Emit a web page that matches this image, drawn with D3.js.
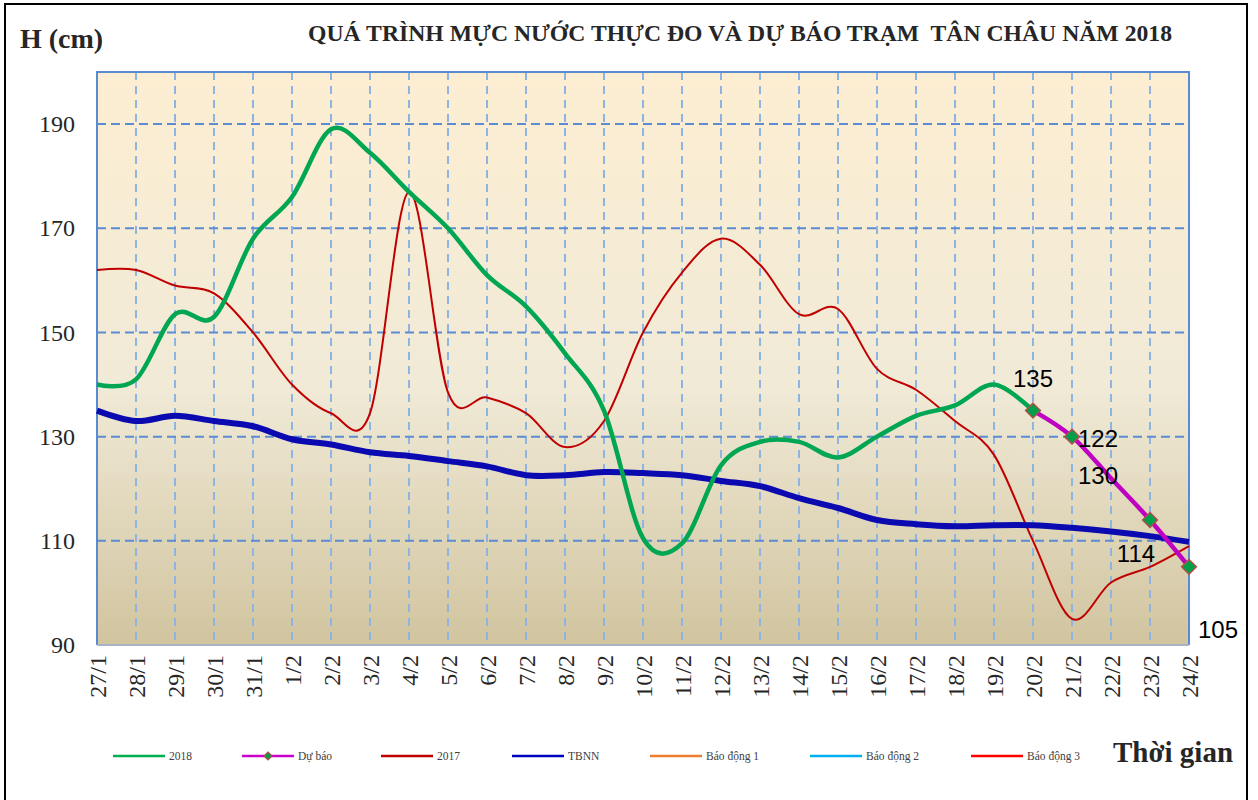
<!DOCTYPE html>
<html>
<head>
<meta charset="utf-8">
<script src="https://cdn.jsdelivr.net/npm/d3@7"></script>
<style>
  body { margin: 0; background: #fff; }
  svg text { font-family: "Liberation Serif", "Times New Roman", serif; }
</style>
</head>
<body>
<svg id="chart"></svg>
<script>
const width = 1258;
const height = 800;
const plot = { left: 97, right: 1189, top: 72, bottom: 645 };

// ngày (trục hoành)
const dates = ['27/1','28/1','29/1','30/1','31/1','1/2','2/2','3/2','4/2','5/2','6/2','7/2','8/2','9/2',
  '10/2','11/2','12/2','13/2','14/2','15/2','16/2','17/2','18/2','19/2','20/2','21/2','22/2','23/2','24/2'];
const yTicks = [90, 110, 130, 150, 170, 190];

// thực đo 2018 (27/1 -> 20/2)
const h2018 = [140, 141, 153.5, 153, 168, 176, 189, 184.5, 177, 170, 161, 155, 146, 135,
  110.5, 109.5, 124.5, 129, 129, 126, 130, 134, 136, 140, 135];
// dự báo
const duBaoDates = ['20/2','21/2','22/2','23/2','24/2'];
const duBao = [135, 130, 122, 114, 105];
const duBaoMarker = [true, true, false, true, true];
const duBaoText = ['135', '122', '130', '114', '105'];
// năm 2017
const h2017 = [162, 162, 159, 157.5, 150, 140, 134.5, 134.5, 177, 138.5, 137.5, 134.5, 128, 133,
  150, 161.5, 168, 163, 153.5, 154.5, 143, 139, 133, 126.5, 110, 95, 102, 105, 109];
// trung bình nhiều năm
const tbnn = [135, 133, 134, 133, 132, 129.5, 128.5, 127, 126.3, 125.3, 124.3, 122.6, 122.6, 123.2,
  123, 122.6, 121.5, 120.5, 118.2, 116.3, 114, 113.2, 112.8, 113, 113, 112.5, 111.8, 110.9, 109.8];

const legendItems = [
  { name: '2018', color: '#00b050' },
  { name: 'Dự báo', color: '#cc00cc', marker: true },
  { name: '2017', color: '#c00000' },
  { name: 'TBNN', color: '#0000c0' },
  { name: 'Báo động 1', color: '#ed7d31' },
  { name: 'Báo động 2', color: '#00b0f0' },
  { name: 'Báo động 3', color: '#ff0000' }
];
const legendX = [113, 242, 381, 512, 650, 810, 971];
// vị trí nhãn so với điểm dự báo
const labelOffsets = [[0, -24], [26, 10], [-13, 6], [-14, 42], [29, 71]];

const svg = d3.select('#chart')
  .attr('width', width)
  .attr('height', height);

const x = d3.scalePoint()
  .domain(dates)
  .range([plot.left, plot.right]);

const y = d3.scaleLinear()
  .domain([90, 200])
  .range([plot.bottom, plot.top]);

// nền gradient
const grad = svg.append('defs').append('linearGradient')
  .attr('id', 'bg')
  .attr('x1', 0).attr('y1', 0).attr('x2', 0).attr('y2', 1);
grad.append('stop').attr('offset', '0%').attr('stop-color', '#fdeed2');
grad.append('stop').attr('offset', '55%').attr('stop-color', '#f0ead7');
grad.append('stop').attr('offset', '100%').attr('stop-color', '#d1c49f');

svg.append('rect')
  .attr('x', 5).attr('y', 4)
  .attr('width', 1242).attr('height', 820)
  .attr('fill', 'none')
  .attr('stroke', '#000')
  .attr('stroke-width', 2);

svg.append('rect')
  .attr('x', plot.left).attr('y', plot.top)
  .attr('width', plot.right - plot.left)
  .attr('height', plot.bottom - plot.top)
  .attr('fill', 'url(#bg)');

// lưới
svg.append('g')
  .selectAll('line')
  .data(dates.slice(1, -1))
  .enter()
  .append('line')
  .attr('x1', d => x(d)).attr('x2', d => x(d))
  .attr('y1', plot.top).attr('y2', plot.bottom)
  .attr('stroke', '#8db4e2')
  .attr('stroke-width', 2)
  .attr('stroke-dasharray', '8,6');

svg.append('g')
  .selectAll('line')
  .data(yTicks.slice(1))
  .enter()
  .append('line')
  .attr('x1', plot.left).attr('x2', plot.right)
  .attr('y1', d => y(d)).attr('y2', d => y(d))
  .attr('stroke', '#5b8bd3')
  .attr('stroke-width', 2)
  .attr('stroke-dasharray', '9,5');

// khung
svg.append('path')
  .attr('d', `M${plot.left},${plot.bottom}V${plot.top}H${plot.right}V${plot.bottom}`)
  .attr('fill', 'none')
  .attr('stroke', '#5a8ad0')
  .attr('stroke-width', 2);
svg.append('line')
  .attr('x1', plot.left).attr('x2', plot.right)
  .attr('y1', plot.bottom).attr('y2', plot.bottom)
  .attr('stroke', '#a8b3c3')
  .attr('stroke-width', 2);

// trục
const yAxis = svg.append('g')
  .attr('transform', `translate(${plot.left},0)`)
  .call(d3.axisLeft(y).tickValues(yTicks).tickSize(0).tickPadding(22));
yAxis.select('.domain').remove();
yAxis.selectAll('text')
  .attr('font-family', '"Liberation Serif", serif')
  .attr('font-size', 24)
  .attr('fill', '#262626');

const xAxis = svg.append('g')
  .attr('transform', `translate(0,${plot.bottom})`)
  .call(d3.axisBottom(x).tickSize(0));
xAxis.select('.domain').remove();
xAxis.selectAll('text')
  .attr('font-family', '"Liberation Serif", serif')
  .attr('font-size', 24)
  .attr('fill', '#262626')
  .attr('text-anchor', 'end')
  .attr('dy', null)
  .attr('y', 0)
  .attr('transform', 'translate(0,10) rotate(-90)')
  .attr('dominant-baseline', 'central');

const line = d3.line()
  .x(d => x(d.date))
  .y(d => y(d.value))
  .curve(d3.curveCardinal.tension(0));

const series = (names, values) => values.map((v, i) => ({ date: names[i], value: v }));

svg.append('path')
  .datum(series(dates, h2017))
  .attr('d', line)
  .attr('fill', 'none')
  .attr('stroke', '#c00000')
  .attr('stroke-width', 2);

svg.append('path')
  .datum(series(dates, tbnn))
  .attr('d', line)
  .attr('fill', 'none')
  .attr('stroke', '#0a0ab0')
  .attr('stroke-width', 6);

svg.append('path')
  .datum(series(dates, h2018))
  .attr('d', line)
  .attr('fill', 'none')
  .attr('stroke', '#00a651')
  .attr('stroke-width', 4.5);

const fc = series(duBaoDates, duBao);
svg.append('path')
  .datum(fc)
  .attr('d', line)
  .attr('fill', 'none')
  .attr('stroke', '#c000c0')
  .attr('stroke-width', 4.5);

const diamond = d3.symbol().type(d3.symbolDiamond2).size(140);
svg.append('g')
  .selectAll('path')
  .data(fc.filter((d, i) => duBaoMarker[i]))
  .enter()
  .append('path')
  .attr('d', diamond)
  .attr('transform', d => `translate(${x(d.date)},${y(d.value)})`)
  .attr('fill', '#00a04a')
  .attr('stroke', '#b0504a')
  .attr('stroke-width', 1.5);

svg.append('g')
  .selectAll('text')
  .data(fc)
  .enter()
  .append('text')
  .attr('x', (d, i) => x(d.date) + labelOffsets[i][0])
  .attr('y', (d, i) => y(d.value) + labelOffsets[i][1])
  .attr('text-anchor', 'middle')
  .style('font-family', '"Liberation Sans", Arial, sans-serif')
  .attr('font-size', 24)
  .attr('fill', '#000')
  .text((d, i) => duBaoText[i]);

// tiêu đề
svg.append('text')
  .attr('x', 20).attr('y', 48)
  .attr('font-size', 28)
  .attr('font-weight', 'bold')
  .attr('fill', '#262626')
  .text('H (cm)');

svg.append('text')
  .attr('x', 308).attr('y', 41)
  .attr('font-size', 23)
  .attr('font-weight', 'bold')
  .attr('fill', '#262626')
  .attr('textLength', 864)
  .attr('lengthAdjust', 'spacingAndGlyphs')
  .style('white-space', 'pre')
  .text('QUÁ TRÌNH MỰC NƯỚC THỰC ĐO VÀ DỰ BÁO TRẠM  TÂN CHÂU NĂM 2018');

svg.append('text')
  .attr('x', 1113).attr('y', 762)
  .attr('font-size', 29)
  .attr('font-weight', 'bold')
  .attr('fill', '#262626')
  .text('Thời gian');

// chú thích
const legend = svg.append('g')
  .selectAll('g')
  .data(legendItems)
  .enter()
  .append('g')
  .attr('transform', (d, i) => `translate(${legendX[i]},756)`);

legend.append('line')
  .attr('x1', 0).attr('x2', 52)
  .attr('stroke', d => d.color)
  .attr('stroke-width', 2.5);

legend.filter(d => d.marker)
  .append('path')
  .attr('d', d3.symbol().type(d3.symbolDiamond2).size(40))
  .attr('transform', 'translate(26,0)')
  .attr('fill', '#00a04a')
  .attr('stroke', '#b0504a')
  .attr('stroke-width', 1.2);

legend.append('text')
  .attr('x', 56)
  .attr('dy', '0.35em')
  .attr('font-size', 11.5)
  .attr('fill', '#404040')
  .text(d => d.name);
</script>
</body>
</html>
